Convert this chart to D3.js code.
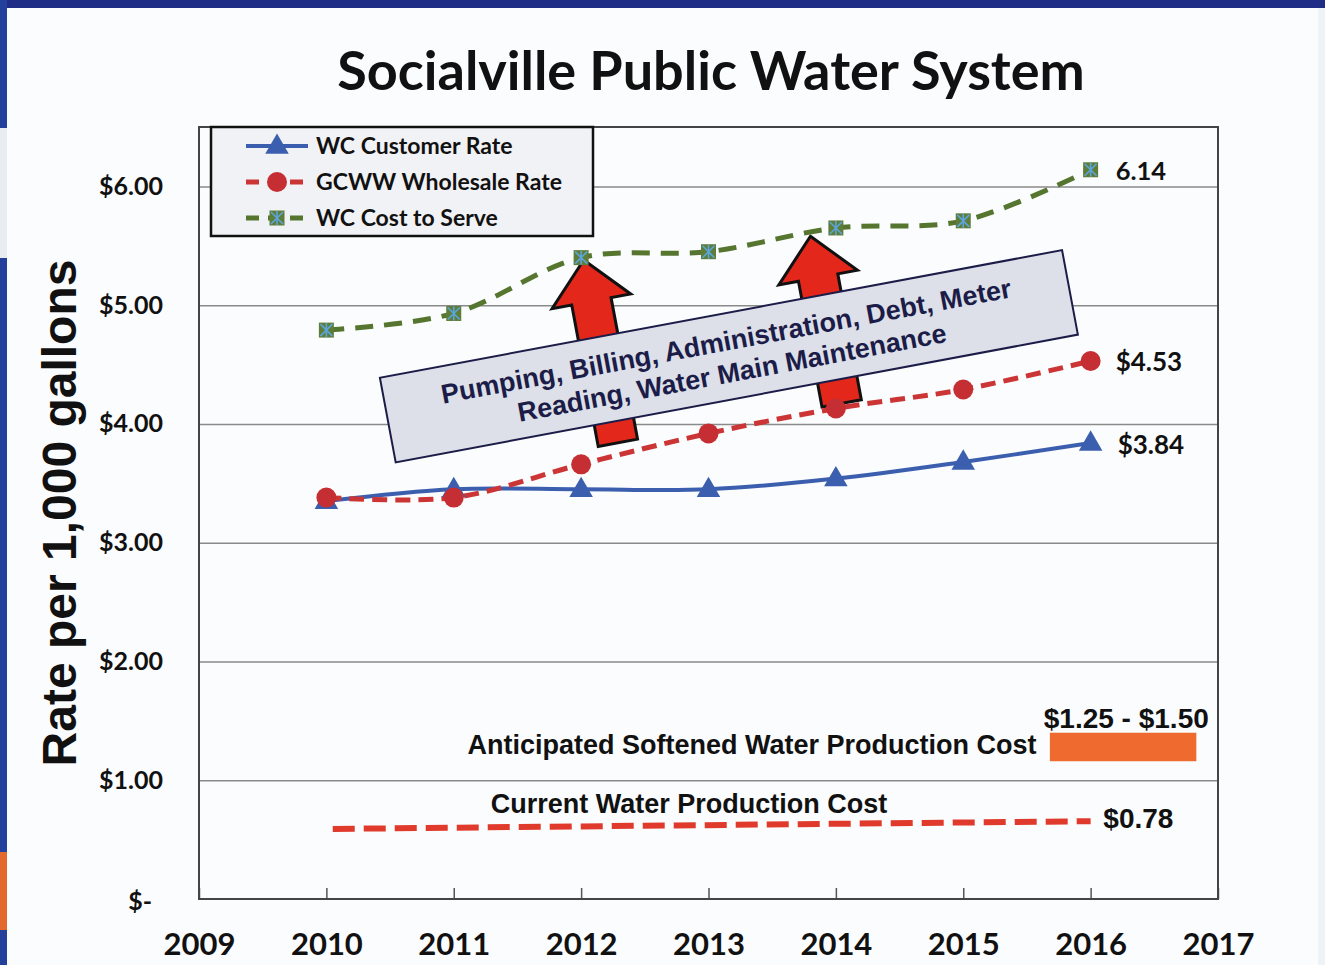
<!DOCTYPE html>
<html>
<head>
<meta charset="utf-8">
<script src="https://cdn.jsdelivr.net/npm/d3@7"></script>
<style>
  body { margin: 0; background: #fbfcfd; }
  svg { display: block; }
</style>
</head>
<body>
<div id="my_dataviz"></div>
<script>
// chart values
var years = [2010, 2011, 2012, 2013, 2014, 2015, 2016];
var customerRate = [3.35, 3.45, 3.45, 3.45, 3.54, 3.68, 3.84];
var wholesaleRate = [3.38, 3.38, 3.66, 3.92, 4.13, 4.29, 4.53];
var costToServe = [4.79, 4.93, 5.40, 5.45, 5.65, 5.71, 6.14];
var xTicks = [2009, 2010, 2011, 2012, 2013, 2014, 2015, 2016, 2017];
var yTicks = [0, 1, 2, 3, 4, 5, 6];
var seriesNames = ["WC Customer Rate", "GCWW Wholesale Rate", "WC Cost to Serve"];

// production cost annotations
var currentCostYears = [2010.05, 2016];
var currentCostValues = [0.59, 0.655];
var softenedYears = [2015.68, 2016.83];
var softenedValues = [1.16, 1.40];

// set the dimensions and margins of the graph
var margin = {top: 127, right: 107, bottom: 66, left: 199},
    width = 1325 - margin.left - margin.right,
    height = 965 - margin.top - margin.bottom;

var root = d3.select("#my_dataviz")
  .append("svg")
    .attr("width", 1325)
    .attr("height", 965);

// slide frame bits
root.append("rect").attr("x", 0).attr("y", 0).attr("width", 1325).attr("height", 8).attr("fill", "#1f2d86");
root.append("rect").attr("x", 0).attr("y", 0).attr("width", 7).attr("height", 965).attr("fill", "#23419a");
root.append("rect").attr("x", 0).attr("y", 128).attr("width", 7).attr("height", 130).attr("fill", "#e9edf2");
root.append("rect").attr("x", 0).attr("y", 852).attr("width", 7).attr("height", 78).attr("fill", "#e2682c");
root.append("rect").attr("x", 1318).attr("y", 8).attr("width", 7).attr("height", 957).attr("fill", "#eef3f8");

var svg = root.append("g")
    .attr("transform", "translate(" + margin.left + "," + margin.top + ")");

// title
root.append("text")
  .attr("x", 711)
  .attr("y", 90)
  .attr("text-anchor", "middle")
  .style("font-family", "Lato, 'Open Sans', sans-serif")
  .style("font-weight", "bold")
  .style("font-size", "54px")
  .attr("fill", "#111")
  .text("Socialville Public Water System");

// scales
var x = d3.scaleLinear()
  .domain([2009, 2017])
  .range([0, width]);
var y = d3.scaleLinear()
  .domain([0, 6.5])
  .range([height, 0]);

// gridlines
svg.append("g")
  .call(d3.axisLeft(y).tickValues(yTicks.slice(1)).tickSize(-width).tickFormat(""))
  .call(function(g) { g.select(".domain").remove(); })
  .selectAll("line")
    .attr("stroke", "#8a8a8a")
    .attr("stroke-width", 1.5);

// Y axis labels
svg.append("g")
  .call(d3.axisLeft(y).tickValues(yTicks).tickSize(0).tickPadding(36)
    .tickFormat(function(d) { return d === 0 ? "$-" : "$" + d3.format(".2f")(d); }))
  .call(function(g) { g.select(".domain").remove(); })
  .selectAll("text")
    .style("font-family", "Lato, 'Open Sans', sans-serif")
    .style("font-weight", "bold")
    .style("font-size", "25px")
    .attr("fill", "#111")
    .attr("dx", function(d) { return d === 0 ? -11 : 0; })
    .attr("dy", function(d) { return d === 0 ? "0.4em" : "0.32em"; });

// X axis
var xAxis = svg.append("g")
  .attr("transform", "translate(0," + height + ")")
  .call(d3.axisBottom(x).tickValues(xTicks).tickSize(-11).tickPadding(34).tickFormat(d3.format("d")));
xAxis.select(".domain").remove();
xAxis.selectAll("line").attr("stroke", "#555").attr("stroke-width", 1.5);
xAxis.selectAll("text")
  .style("font-family", "Lato, 'Open Sans', sans-serif")
  .style("font-weight", "bold")
  .style("font-size", "31px")
  .attr("fill", "#111");

// plot border
svg.append("rect")
  .attr("width", width)
  .attr("height", height)
  .attr("fill", "none")
  .attr("stroke", "#444")
  .attr("stroke-width", 2);

// Y axis title
root.append("text")
  .attr("transform", "translate(76," + (margin.top + y(3.25)) + ") rotate(-90)")
  .attr("text-anchor", "middle")
  .style("font-family", "'Liberation Sans', Arial, sans-serif")
  .style("font-weight", "bold")
  .style("font-size", "48px")
  .attr("fill", "#111")
  .text("Rate per 1,000 gallons");

// current water production cost
var currentCost = currentCostYears.map(function(d, i) { return {year: d, value: currentCostValues[i]}; });
svg.append("path")
  .datum(currentCost)
  .attr("d", d3.line().x(function(d) { return x(d.year); }).y(function(d) { return y(d.value); }))
  .attr("fill", "none")
  .attr("stroke", "#e03a2c")
  .attr("stroke-width", 6)
  .attr("stroke-dasharray", "22,9");

var arialBold = function(sel, size) {
  sel.style("font-family", "'Liberation Sans', Arial, sans-serif")
    .style("font-weight", "bold")
    .style("font-size", size + "px")
    .attr("fill", "#111");
};

svg.append("text")
  .attr("x", x(2011.29))
  .attr("y", y(0.72))
  .call(arialBold, 27)
  .text("Current Water Production Cost");
svg.append("text")
  .attr("x", x(2016.1))
  .attr("y", y(0.6))
  .call(arialBold, 28)
  .text("$0.78");

// anticipated softened water cost
svg.append("rect")
  .attr("x", x(softenedYears[0]))
  .attr("y", y(softenedValues[1]))
  .attr("width", x(softenedYears[1]) - x(softenedYears[0]))
  .attr("height", y(softenedValues[0]) - y(softenedValues[1]))
  .attr("fill", "#ee6a2e");
svg.append("text")
  .attr("x", x(2015.575))
  .attr("y", y(1.22))
  .attr("text-anchor", "end")
  .call(arialBold, 27)
  .text("Anticipated Softened Water Production Cost");
svg.append("text")
  .attr("x", x(2016.28))
  .attr("y", y(1.44))
  .attr("text-anchor", "middle")
  .call(arialBold, 28)
  .text("$1.25 - $1.50");

// arrows behind the cost box
var arrows = [
  {year: 2012.02, value: 5.38, len: 186},
  {year: 2013.8, value: 5.58, len: 170}
];
var tilt = -10.6;
svg.selectAll("myArrow")
  .data(arrows)
  .enter()
  .append("path")
    .attr("transform", function(d) { return "translate(" + x(d.year) + "," + y(d.value) + ") rotate(" + tilt + ")"; })
    .attr("d", function(d) {
      return "M0,0 L40,42 L20,42 L20," + d.len + " L-20," + d.len + " L-20,42 L-40,42 Z";
    })
    .attr("fill", "#e3271b")
    .attr("stroke", "#111")
    .attr("stroke-width", 3)
    .attr("stroke-linejoin", "miter");

// lines
var series = [
  {name: seriesNames[0], values: customerRate, color: "#3b5fae", dash: null, width: 4},
  {name: seriesNames[1], values: wholesaleRate, color: "#cc3535", dash: "15,8", width: 5},
  {name: seriesNames[2], values: costToServe, color: "#56752f", dash: "18,11", width: 5}
];

var line = d3.line()
  .x(function(d) { return x(d.year); })
  .y(function(d) { return y(d.value); })
  .curve(d3.curveCatmullRom.alpha(0.5));

series.forEach(function(s) {
  var pts = years.map(function(d, i) { return {year: d, value: s.values[i]}; });
  svg.append("path")
    .datum(pts)
    .attr("d", line)
    .attr("fill", "none")
    .attr("stroke", s.color)
    .attr("stroke-width", s.width)
    .attr("stroke-dasharray", s.dash);
  s.pts = pts;
});

// markers
var drawMarker = function(g, idx) {
  if (idx === 0) {
    g.append("path")
      .attr("d", d3.symbol(d3.symbolTriangle).size(240))
      .attr("transform", "translate(0,1)")
      .attr("fill", "#3b5fae");
  } else if (idx === 1) {
    g.append("circle")
      .attr("r", 10)
      .attr("fill", "#c52f33");
  } else {
    g.append("rect")
      .attr("x", -7.5).attr("y", -7.5).attr("width", 15).attr("height", 15)
      .attr("fill", "#5f7d3a");
    g.append("path")
      .attr("d", "M-6,-6L6,6M6,-6L-6,6M0,-7L0,7")
      .attr("stroke", "#5aa6dc")
      .attr("stroke-width", 1.6);
  }
};

series.forEach(function(s, idx) {
  svg.selectAll("myMarker")
    .data(s.pts)
    .enter()
    .append("g")
      .attr("transform", function(d) { return "translate(" + x(d.year) + "," + y(d.value) + ")"; })
      .each(function() { drawMarker(d3.select(this), idx); });
});

// end labels
var calibriBold = function(sel, size) {
  sel.style("font-family", "Lato, 'Open Sans', sans-serif")
    .style("font-weight", "bold")
    .style("font-size", size + "px")
    .attr("fill", "#111");
};
svg.append("text")
  .attr("x", x(2016) + 25).attr("y", y(costToServe[6]) + 10)
  .call(calibriBold, 25.5).text("6.14");
svg.append("text")
  .attr("x", x(2016) + 25).attr("y", y(wholesaleRate[6]) + 10)
  .call(calibriBold, 26).text("$" + d3.format(".2f")(wholesaleRate[6]));
svg.append("text")
  .attr("x", x(2016) + 27).attr("y", y(customerRate[6]) + 11)
  .call(calibriBold, 26).text("$" + d3.format(".2f")(customerRate[6]));

// tilted note box
var note = svg.append("g")
  .attr("transform", "translate(" + x(2013.16) + "," + y(4.57) + ") rotate(" + tilt + ")");
note.append("rect")
  .attr("x", -347).attr("y", -43)
  .attr("width", 694).attr("height", 86)
  .attr("fill", "#dde0e8")
  .attr("stroke", "#1c1c48")
  .attr("stroke-width", 2);
note.selectAll("myNoteLine")
  .data(["Pumping, Billing, Administration, Debt, Meter", "Reading, Water Main Maintenance"])
  .enter()
  .append("text")
    .attr("x", 0)
    .attr("y", function(d, i) { return i === 0 ? -6 : 26; })
    .attr("text-anchor", "middle")
    .style("font-family", "'Liberation Sans', Arial, sans-serif")
    .style("font-weight", "bold")
    .style("font-size", "27px")
    .attr("fill", "#1c1c48")
    .text(function(d) { return d; });

// legend
var legend = svg.append("g").attr("transform", "translate(12,0)");
legend.append("rect")
  .attr("width", 382)
  .attr("height", 109)
  .attr("fill", "#f1f2f5")
  .attr("stroke", "#111")
  .attr("stroke-width", 2.5);
series.forEach(function(s, idx) {
  var row = legend.append("g").attr("transform", "translate(0," + (19 + idx * 36) + ")");
  row.append("line")
    .attr("x1", 35).attr("x2", 97)
    .attr("stroke", s.color)
    .attr("stroke-width", s.width)
    .attr("stroke-dasharray", idx === 0 ? null : "13,9");
  var m = row.append("g").attr("transform", "translate(66,0)");
  drawMarker(m, idx);
  row.append("text")
    .attr("x", 105)
    .attr("dy", "0.35em")
    .call(calibriBold, 23)
    .text(s.name);
});
</script>
</body>
</html>
